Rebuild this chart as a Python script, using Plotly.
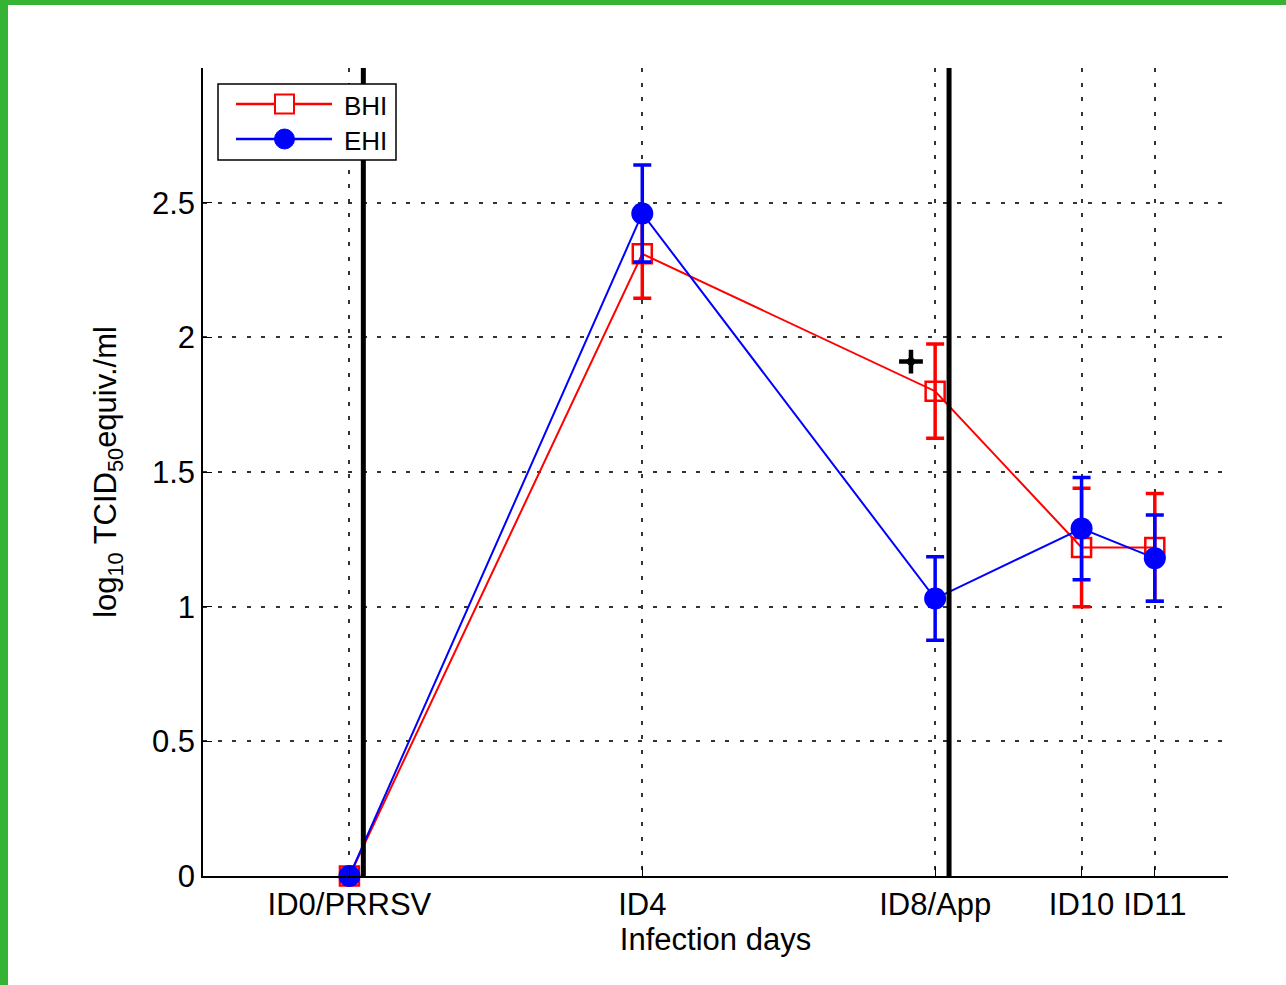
import plotly.graph_objects as go

days = [0, 4, 8, 10, 11]
tick_labels = ["ID0/PRRSV", "ID4", "ID8/App", "ID10", "ID11"]

bhi_mean = [0.0, 2.31, 1.80, 1.22, 1.22]
bhi_err = [0.0, 0.165, 0.175, 0.22, 0.20]

ehi_mean = [0.0, 2.46, 1.03, 1.29, 1.18]
ehi_err = [0.0, 0.18, 0.155, 0.19, 0.16]

event_lines_x = [0.19, 8.19]
sig_x = [7.67]
sig_y = [1.91]

y_ticks = [0, 0.5, 1, 1.5, 2, 2.5]
y_tick_text = ["0", "0.5", "1", "1.5", "2", "2.5"]

series_names = ["BHI", "EHI"]
series_colors = ["#ff0000", "#0000ff"]

FONT = "Liberation Sans, Arial, sans-serif"
GRID = dict(showgrid=True, gridcolor="#333", griddash="4px,10.5px", gridwidth=1.6)

fig = go.Figure()

fig.add_trace(go.Scatter(
    x=days, y=bhi_mean, name=series_names[0], mode="lines+markers",
    line=dict(color=series_colors[0], width=2),
    marker=dict(symbol="square-open", size=19, color=series_colors[0], line=dict(width=2.5, color=series_colors[0])),
    error_y=dict(type="data", array=bhi_err, visible=True, color=series_colors[0], thickness=3.5, width=9),
    cliponaxis=False, showlegend=False,
))
fig.add_trace(go.Scatter(
    x=days, y=ehi_mean, name=series_names[1], mode="lines+markers",
    line=dict(color=series_colors[1], width=2),
    marker=dict(symbol="circle", size=22, color=series_colors[1]),
    error_y=dict(type="data", array=ehi_err, visible=True, color=series_colors[1], thickness=3.5, width=9),
    cliponaxis=False, showlegend=False,
))
fig.add_trace(go.Scatter(
    x=sig_x, y=sig_y, mode="markers", showlegend=False,
    marker=dict(symbol="cross-thin", size=17, color="black", line=dict(width=4.5, color="black")),
))
fig.add_trace(go.Scatter(
    x=sig_x, y=sig_y, mode="markers", showlegend=False,
    marker=dict(symbol="diamond", size=9, color="black"),
))

for xv in event_lines_x:
    fig.add_shape(type="line", xref="x", yref="y", x0=xv, x1=xv, y0=0, y1=3,
                  line=dict(color="black", width=5), layer="above")

# page geometry (pixels) for paper-referenced decorations
W, H = 1025.0, 808.0
L, T = 203.0, 68.0
BOTTOM = 876.0


def px(xp):
    return (xp - L) / W


def py(yp):
    return (BOTTOM - yp) / H


# green frame on left and top of page
green = "#34b334"
fig.add_shape(type="rect", xref="paper", yref="paper",
              x0=px(0), x1=px(8), y0=py(985), y1=py(0),
              fillcolor=green, line=dict(width=0), layer="below")
fig.add_shape(type="rect", xref="paper", yref="paper",
              x0=px(0), x1=px(1286), y0=py(5), y1=py(0),
              fillcolor=green, line=dict(width=0), layer="below")

# custom legend (MATLAB style)
fig.add_shape(type="rect", xref="paper", yref="paper",
              x0=px(218), x1=px(396), y0=py(160), y1=py(84),
              fillcolor="white", line=dict(color="black", width=1.5), layer="above")
rows_y = [104, 139]
for i, (nm, col) in enumerate(zip(series_names, series_colors)):
    yy = rows_y[i]
    fig.add_shape(type="line", xref="paper", yref="paper",
                  x0=px(236), x1=px(332), y0=py(yy), y1=py(yy),
                  line=dict(color=col, width=2.5), layer="above")
    if i == 0:
        fig.add_shape(type="rect", xref="paper", yref="paper",
                      x0=px(275), x1=px(294), y0=py(yy + 9.5), y1=py(yy - 9.5),
                      fillcolor="white", line=dict(color=col, width=2), layer="above")
    else:
        fig.add_shape(type="circle", xref="paper", yref="paper",
                      x0=px(274.5), x1=px(294.5), y0=py(yy + 10), y1=py(yy - 10),
                      fillcolor=col, line=dict(color=col, width=1), layer="above")
    fig.add_annotation(xref="paper", yref="paper", x=px(342), y=py(yy + 2),
                       xanchor="left", yanchor="middle", text=nm, showarrow=False,
                       font=dict(family=FONT, size=26, color="black"))

fig.update_layout(
    width=1286, height=985,
    margin=dict(l=203, r=58, t=68, b=109),
    paper_bgcolor="white", plot_bgcolor="white",
    font=dict(family=FONT, size=30, color="black"),
    showlegend=False,
    xaxis=dict(
        range=[-2, 12], tickmode="array", tickvals=days, ticktext=tick_labels,
        showline=True, linecolor="black", linewidth=1.5,
        ticks="inside", ticklen=9, tickcolor="black",
        zeroline=False, mirror=False,
        title=dict(text="Infection days", font=dict(size=31), standoff=2),
        tickfont=dict(size=31),
        **GRID,
    ),
    yaxis=dict(
        range=[0, 3], tickmode="array", tickvals=y_ticks, ticktext=y_tick_text,
        showline=True, linecolor="black", linewidth=1.5,
        ticks="inside", ticklen=9, tickcolor="black",
        zeroline=False, mirror=False,
        title=dict(text="log<sub>10</sub> TCID<sub>50</sub>equiv./ml", font=dict(size=31), standoff=26),
        tickfont=dict(size=31),
        **GRID,
    ),
)

fig.write_html("out.html")
